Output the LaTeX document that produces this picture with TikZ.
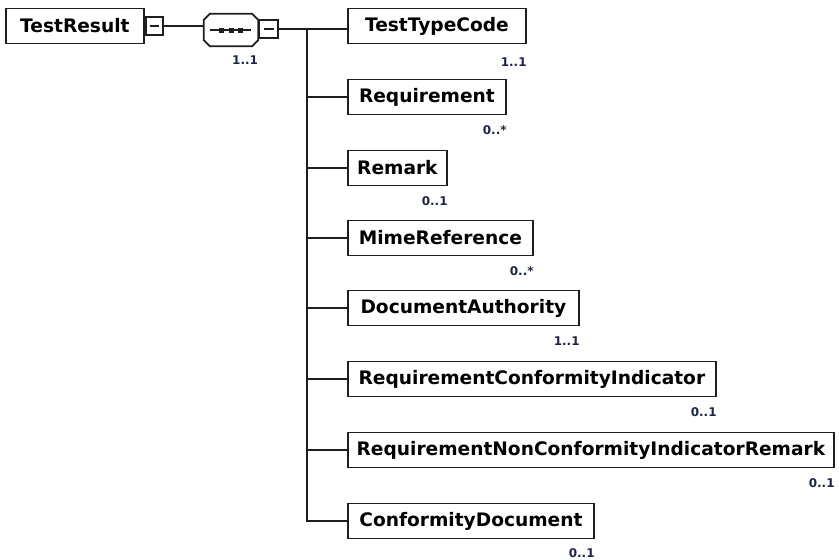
\documentclass[tikz,border=0pt]{standalone}
\usepackage{fontspec}
\setmainfont{DejaVu Sans}
\usetikzlibrary{calc}
\definecolor{cardcol}{HTML}{1C2547}
\definecolor{linecol}{HTML}{1E1E1E}
\begin{document}
\begin{tikzpicture}[x=1pt,y=-1pt,
  elem/.style={draw=linecol, line width=1.8pt, fill=white, minimum height=35pt, inner sep=0pt,
    font=\fontsize{18.6}{20}\selectfont\bfseries, anchor=west},
  card/.style={font=\fontsize{12}{13}\selectfont\bfseries, anchor=north east, inner sep=0pt, text=cardcol},
  conn/.style={line width=1.8pt, draw=linecol},
  minusbox/.style={draw=linecol, line width=1.8pt, fill=white, minimum width=17pt, minimum height=18pt, inner sep=0pt},
  minussign/.style={line width=1.4pt, draw=linecol}
]
\useasboundingbox (0,0) rectangle (839,560);

% root element
\node[elem, minimum width=138pt] (root) at (5,26) {TestResult};
\node[minusbox, anchor=west] (rm) at (root.east) {};
\draw[minussign] ($(rm.center)+(-4.5,0)$) -- ($(rm.center)+(4.5,0)$);

% sequence compositor
\node[minimum width=54pt, minimum height=32pt, inner sep=0pt] (seq) at (231,30) {};
\draw[conn] (rm.east) -- (rm.east -| seq.west);
\draw[conn, fill=white]
  ($(seq.north west)+(6,0)$) -- ($(seq.north east)+(-6,0)$) -- ($(seq.north east)+(0,6)$)
  -- ($(seq.south east)+(0,-6)$) -- ($(seq.south east)+(-6,0)$) -- ($(seq.south west)+(6,0)$)
  -- ($(seq.south west)+(0,-6)$) -- ($(seq.north west)+(0,6)$) -- cycle;
\draw[line width=1.4pt, draw=linecol] ($(seq.center)+(-21,0)$) -- ($(seq.center)+(20,0)$);
\foreach \dx in {-9.5,0,9.5} {
  \fill[linecol] ($(seq.center)+(\dx-2.5,-2.5)$) rectangle ($(seq.center)+(\dx+2.5,2.5)$);
}
\node[minusbox, anchor=west, minimum width=19pt] (sm) at ($(seq.east)+(0,-1)$) {};
\draw[minussign] ($(sm.center)+(-5,0)$) -- ($(sm.center)+(5,0)$);
\node[card] (seqcard) at ($(seq.south east)+(0,9)$) {1..1};

% trunk
\coordinate (trunk) at ($(sm.east)+(28,0)$);
\draw[conn] (sm.east) -- (trunk);

% children
\node[elem, minimum width=178pt] (c1) at (347,26) {TestTypeCode};
\node[elem, minimum width=158pt] (c2) at (347,97) {Requirement};
\node[elem, minimum width=99pt]  (c3) at (347,168) {Remark};
\node[elem, minimum width=185pt] (c4) at (347,238) {MimeReference};
\node[elem, minimum width=231pt] (c5) at (347,308) {DocumentAuthority};
\node[elem, minimum width=368pt] (c6) at (347,379) {RequirementConformityIndicator};
\node[elem, minimum width=486pt] (c7) at (347,450) {RequirementNonConformityIndicatorRemark};
\node[elem, minimum width=246pt] (c8) at (347,521) {ConformityDocument};

\draw[conn] (trunk) -- (trunk |- c8.west) -- (c8.west);
\draw[conn] (trunk) -- (trunk -| c1.west);
\foreach \c in {c2,c3,c4,c5,c6,c7} {
  \draw[conn] (trunk |- \c.west) -- (\c.west);
}

% cardinalities
\node[card] (k1) at ($(c1.south east)+(0,13)$) {1..1};
\node[card] (k2) at ($(c2.south east)+(0,10)$) {0..*};
\node[card] (k3) at ($(c3.south east)+(0,10)$) {0..1};
\node[card] (k4) at ($(c4.south east)+(0,10)$) {0..*};
\node[card] (k5) at ($(c5.south east)+(0,10)$) {1..1};
\node[card] (k6) at ($(c6.south east)+(0,10)$) {0..1};
\node[card] (k7) at ($(c7.south east)+(0,10)$) {0..1};
\node[card] (k8) at ($(c8.south east)+(0,9)$) {0..1};
\end{tikzpicture}
\end{document}
